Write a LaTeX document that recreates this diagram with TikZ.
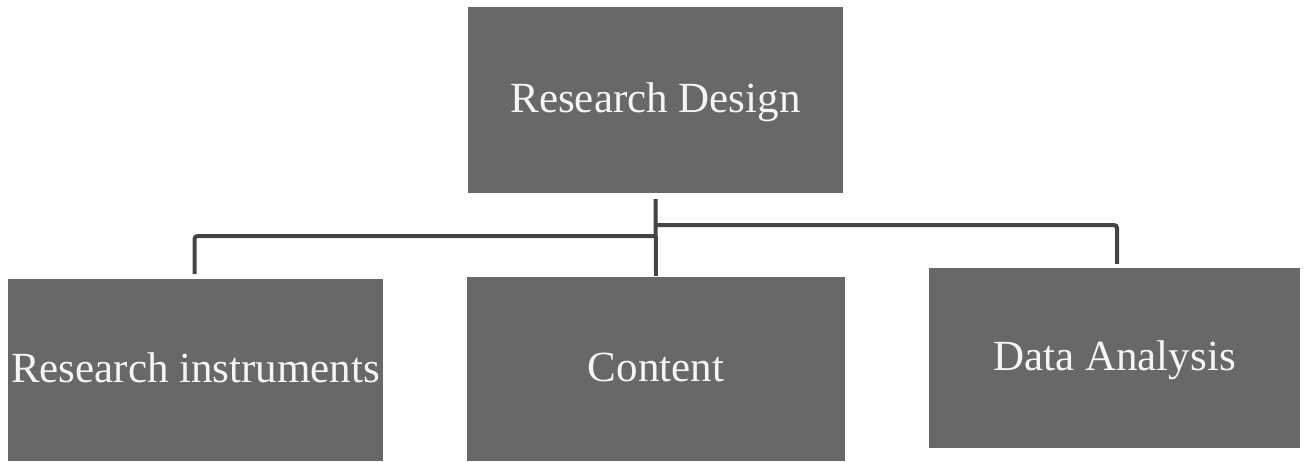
\documentclass[tikz,border=0pt]{standalone}
\usepackage{fontspec}
\setmainfont{Liberation Serif}
\usetikzlibrary{calc}
\definecolor{boxgray}{RGB}{104,104,104}
\definecolor{linegray}{RGB}{68,68,68}
\definecolor{textwhite}{RGB}{245,245,245}
\tikzset{
  box/.style={fill=boxgray, draw=none, text=textwhite, inner sep=0pt,
    font=\fontsize{43}{43}\selectfont, text height=30pt, text depth=6pt, align=center},
  conn/.style={draw=linegray, line width=4pt, rounded corners=3pt}
}
\begin{document}
\begin{tikzpicture}[x=1pt,y=-1pt]
\useasboundingbox (0,0) rectangle (1311,461);
\node[box, minimum width=375pt, minimum height=186pt] (top) at (655.5,100) {Research Design};
\node[box, minimum width=375pt, minimum height=182pt] (left) at (195.5,370) {Research instruments};
\node[box, minimum width=378pt, minimum height=184pt] (mid) at (656,369) {Content};
\node[box, minimum width=371pt, minimum height=180pt] (right) at (1114.5,358) {Data Analysis};
\coordinate (hub) at ($(top.south)+(0,6)$);
\draw[conn] (hub) -- ($(mid.north)+(0,-1)$);
\draw[conn] ($(hub|-0,236)$) -- ($(left.north|-0,236)+(-1,0)$) -- ($(left.north)+(-1,-5)$);
\draw[conn] ($(hub|-0,225)$) -- ($(right.north|-0,225)+(2.5,0)$) -- ($(right.north)+(2.5,-4)$);
\end{tikzpicture}
\end{document}
